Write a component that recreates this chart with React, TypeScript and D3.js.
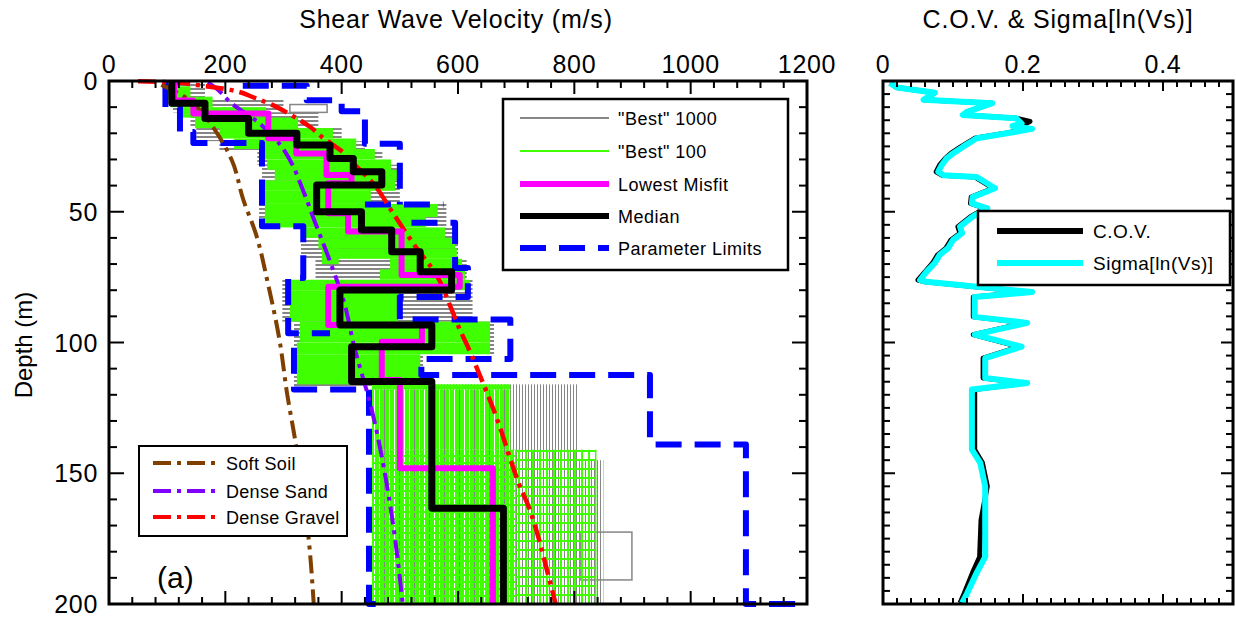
import React from "react";
import * as d3 from "d3";

// ---------- data ----------
// axis ticks
const velTickLabels = [0, 200, 400, 600, 800, 1000, 1200];
const depthTickLabels = [0, 50, 100, 150, 200];
const covTickLabels = [0, 0.2, 0.4];

// profiles: [top depth (m), Vs (m/s)]
const medianProfile: [number, number][] = [
  [0, 108], [8.5, 165], [14.3, 240], [20, 323], [24.5, 380], [29.6, 420], [34.7, 469],
  [39.8, 357], [50, 434], [57, 486], [65.3, 535], [72.9, 589], [79.9, 397], [93.3, 555],
  [101.6, 417], [114.9, 555], [163.4, 678],
];
const lowestMisfitProfile: [number, number][] = [
  [0, 112], [7.5, 145], [12.4, 274], [21.9, 322], [27.7, 374], [35.9, 417], [39.1, 377],
  [50.6, 411], [57.6, 503], [74.2, 603], [78.7, 377], [93.3, 538], [99.7, 469],
  [114.3, 500], [148.1, 660],
];

// envelopes of the "Best" 100 (green) and "Best" 1000 (gray) profiles: [dTop, dBot, VsMin, VsMax]
const best100Upper: [number, number, number, number][] = [
  [2, 7, 100, 140], [6, 10, 105, 178], [10, 14, 122, 270], [14, 18, 148, 325],
  [18, 22, 190, 385], [22, 26, 215, 425], [26, 30, 265, 457], [30, 34, 272, 485],
  [34, 38, 285, 500], [38, 42, 268, 492], [42, 47, 265, 450], [47, 52, 268, 565],
  [52, 56, 265, 545], [56, 60, 337, 578], [60, 64, 360, 595], [64, 68, 372, 598],
  [64, 70, 366, 395], [68, 72, 483, 607], [72, 76, 466, 612], [76, 80, 308, 620],
  [80, 92, 311, 497], [92, 100, 328, 655], [100, 104.5, 323, 655], [104.5, 116, 323, 535],
  [116, 118, 452, 690],
];
const best100Deep: [number, number, number, number][] = [[118, 141, 452, 690]];
const best100DeepGrid: [number, number, number, number][] = [[141, 200, 452, 700]];
const best100DeepSparse: [number, number, number, number][] = [[141, 200, 700, 838]];
const best1000Upper: [number, number, number, number][] = [
  [1, 7, 95, 165], [7, 12, 110, 300], [12, 18, 140, 360], [18, 23, 150, 400],
  [23, 27, 190, 440], [27, 32, 255, 470], [32, 38, 263, 505], [38, 47, 258, 500],
  [47, 56, 258, 580], [56, 68, 330, 600], [68, 76, 355, 615], [76, 92, 298, 625],
  [92, 104.5, 318, 662], [104.5, 117, 318, 540],
];
const best1000Deep: [number, number, number, number][] = [[116, 145, 450, 805], [145, 200, 450, 850]];
const best1000Outliers: [number, number, number, number][] = [[9, 12, 311, 375], [172.5, 190.8, 810, 899]];

// parameter limits: polylines of [depth, Vs]
const limitsA: [number, number][] = [
  [0, 97], [10.2, 97], [10.2, 122], [19.5, 122], [19.5, 145], [23.7, 145], [23.7, 263],
  [55.5, 263], [55.5, 334], [75.3, 334], [75.3, 308], [96.5, 308], [96.5, 380],
];
const limitsB: [number, number][] = [[102, 318], [118, 318], [118, 447], [200, 447], [200, 480]];
const limitsC: [number, number][] = [
  [1.8, 230], [1.8, 340], [7.4, 340], [7.4, 400], [11.6, 400], [11.6, 440], [24, 440],
  [24, 500], [47.2, 500],
];
const limitsD: [number, number][] = [[47.2, 440], [47.2, 575]];
const limitsE: [number, number][] = [
  [54.2, 520], [54.2, 595], [71.5, 595], [71.5, 617], [82.6, 617], [82.6, 500], [91.2, 500],
  [91.2, 690], [106.3, 690], [106.3, 537], [112.4, 537], [112.4, 930], [139, 930],
  [139, 1095], [200, 1095], [200, 1190],
];

// generic reference curves: [depth, Vs]
const softSoil: [number, number][] = [
  [1.5, 90], [5.4, 125], [11.1, 156], [18.7, 182], [30.2, 211], [45.5, 231], [58.1, 252],
  [77.2, 273], [100.2, 294], [119.3, 306], [137.3, 320], [176.7, 344], [200, 352],
];
const denseSand: [number, number][] = [
  [0.5, 170], [2.7, 184], [8, 208], [16.8, 262], [23.7, 292], [30.2, 311], [40.9, 332],
  [53.9, 354], [69.6, 381], [84.5, 404], [101, 421], [126, 452], [146, 471], [169, 488], [200, 505],
];
const denseGravel: [number, number][] = [
  [0.1, 50], [0.5, 110], [1.5, 150], [3.4, 208], [6.5, 251], [9.6, 285], [13, 313],
  [17.6, 346], [21.4, 366], [27.2, 402], [32.1, 423], [38.6, 452], [50.1, 487], [55.8, 504],
  [62.7, 525], [74.2, 563], [86.8, 588], [94.5, 602], [101.7, 617], [115.5, 643],
  [130.4, 669], [145.3, 691], [155.3, 707], [161.4, 719], [172.8, 736], [188.9, 755], [200, 768],
];

// right panel: [depth, value]
const sigmaLnVs: [number, number][] = [
  [0.8, 0.01], [2.5, 0.02], [4.5, 0.074], [7.2, 0.058], [8.5, 0.156], [11.8, 0.12], [13, 0.114],
  [14.2, 0.19], [16.3, 0.198], [17.2, 0.185], [18.3, 0.213], [20, 0.177], [21.9, 0.134],
  [25.2, 0.114], [27.7, 0.1], [29.6, 0.091], [32.1, 0.084], [34.7, 0.079], [36, 0.086],
  [36.7, 0.134], [41, 0.16], [44.4, 0.128], [46.8, 0.127], [48.7, 0.149], [51.9, 0.128],
  [55.7, 0.11], [58.2, 0.113], [60.8, 0.1], [63.9, 0.093], [66.5, 0.081], [69.6, 0.074],
  [73, 0.062], [76.1, 0.053], [76.8, 0.062], [80.7, 0.213], [82.6, 0.131], [90.2, 0.131],
  [92.5, 0.206], [97, 0.131], [101.6, 0.198], [106, 0.146], [113.6, 0.146], [115.5, 0.206],
  [118, 0.127], [141, 0.127], [146, 0.139], [155, 0.146], [182, 0.146], [188, 0.134],
  [196, 0.12], [199.6, 0.113],
];
const cov: [number, number][] = [
  [0.8, 0.01], [2.5, 0.02], [4.5, 0.074], [7.2, 0.058], [8.5, 0.156], [11.8, 0.12], [13, 0.115],
  [14.2, 0.19], [15.5, 0.21], [17, 0.198], [18.3, 0.207], [20, 0.175], [21.9, 0.131],
  [25.2, 0.111], [27.7, 0.097], [29.6, 0.089], [32.1, 0.081], [34.7, 0.076], [36, 0.084],
  [36.7, 0.131], [41, 0.157], [44.4, 0.126], [46.8, 0.125], [48.7, 0.146], [51.9, 0.125],
  [55.7, 0.107], [58.2, 0.11], [60.8, 0.097], [63.9, 0.09], [66.5, 0.078], [69.6, 0.071],
  [73, 0.06], [76.1, 0.05], [76.8, 0.06], [80.7, 0.207], [82.6, 0.129], [90.2, 0.129],
  [92.5, 0.203], [97, 0.129], [101.6, 0.195], [106, 0.143], [113.6, 0.143], [115.5, 0.203],
  [118, 0.131], [141, 0.131], [146, 0.142], [155, 0.149], [168, 0.14], [182, 0.138],
  [188, 0.128], [196, 0.116], [199.6, 0.11],
];

// ---------- styles ----------
const FONT = "'Liberation Sans', Arial, Helvetica, sans-serif";
const GREEN = "#40ff00";
const GRAY = "#868686";
const BLUE = "#0000ff";
const MAGENTA = "#ff00ff";
const CYAN = "#00ffff";
const BROWN = "#7f3f00";
const PURPLE = "#7f00ff";
const RED = "#ff0000";
const DASHDOT = "18 6 4 6";
const BLUEDASH = "26 13";

export default function App() {
  const x = d3.scaleLinear().domain([0, 1200]).range([109, 807]);
  const y = d3.scaleLinear().domain([0, 200]).range([81, 604]);
  const xc = d3.scaleLinear().domain([0, 0.5]).range([883, 1233]);

  const vLine = d3
    .line<[number, number]>()
    .x((p) => x(p[1]))
    .y((p) => y(p[0]));
  const vCurve = d3
    .line<[number, number]>()
    .x((p) => x(p[1]))
    .y((p) => y(p[0]))
    .curve(d3.curveMonotoneY);
  const cLine = d3
    .line<[number, number]>()
    .x((p) => xc(p[1]))
    .y((p) => y(p[0]));

  const steps = (layers: [number, number][]): [number, number][] => {
    const pts: [number, number][] = [];
    layers.forEach(([d, v], i) => {
      const dBot = i < layers.length - 1 ? layers[i + 1][0] : 200;
      pts.push([d, v]);
      pts.push([dBot, v]);
    });
    return pts;
  };

  const band = (b: [number, number, number, number]) => ({
    x: x(b[2]),
    y: y(b[0]),
    width: x(b[3]) - x(b[2]),
    height: y(b[1]) - y(b[0]),
  });

  const velMinor = d3.range(0, 1201, 40);
  const depthMinor = d3.range(0, 201, 10);
  const depthMinorR = d3.range(0, 201, 5);
  const covMinor = d3.range(0, 0.5001, 0.02);
  const isMajorCov = (v: number) => Math.abs(v / 0.2 - Math.round(v / 0.2)) < 1e-6;

  const [L, R, T, B] = [x(0), x(1200), y(0), y(200)];
  const [L2, R2] = [xc(0), xc(0.5)];

  const mainLegend = [
    { label: '"Best" 1000', stroke: GRAY, w: 2, dash: undefined as string | undefined },
    { label: '"Best" 100', stroke: GREEN, w: 2, dash: undefined },
    { label: "Lowest Misfit", stroke: MAGENTA, w: 6, dash: undefined },
    { label: "Median", stroke: "#000", w: 6, dash: undefined },
    { label: "Parameter Limits", stroke: BLUE, w: 6, dash: BLUEDASH },
  ];
  const mainLegendY = [118, 151, 184, 216, 248];
  const refLegend = [
    { label: "Soft Soil", stroke: BROWN },
    { label: "Dense Sand", stroke: PURPLE },
    { label: "Dense Gravel", stroke: RED },
  ];
  const refLegendY = [463, 491, 517];

  return (
    <svg
      width={1236}
      height={617}
      style={{ position: "absolute", left: 0, top: 0, background: "#fff" }}
      fontFamily={FONT}
    >
      <defs>
        <pattern id="grayH" patternUnits="userSpaceOnUse" width="10" height="4">
          <rect x="0" y="0" width="10" height="1.5" fill={GRAY} shapeRendering="crispEdges" />
        </pattern>
        <pattern id="grayV" patternUnits="userSpaceOnUse" width="3" height="10">
          <rect x="0" y="0" width="1" height="10" fill={GRAY} shapeRendering="crispEdges" />
        </pattern>
        <pattern id="greenV" patternUnits="userSpaceOnUse" width="5" height="10">
          <rect x="0" y="0" width="4" height="10" fill={GREEN} shapeRendering="crispEdges" />
        </pattern>
        <pattern id="greenGrid" patternUnits="userSpaceOnUse" width="5" height="7">
          <rect x="0" y="0" width="4" height="7" fill={GREEN} shapeRendering="crispEdges" />
          <rect x="0" y="0" width="5" height="2" fill={GREEN} shapeRendering="crispEdges" />
        </pattern>
        <pattern id="greenSparse" patternUnits="userSpaceOnUse" width="7" height="9">
          <rect x="0" y="0" width="2" height="9" fill={GREEN} shapeRendering="crispEdges" />
          <rect x="0" y="0" width="7" height="2" fill={GREEN} shapeRendering="crispEdges" />
        </pattern>
      </defs>
      <rect x={0} y={0} width={1236} height={617} fill="#fff" />

      {/* ---------- left panel ---------- */}
      {best1000Upper.map((b, i) => (
        <rect key={"gu" + i} {...band(b)} fill="url(#grayH)" />
      ))}
      {best1000Deep.map((b, i) => (
        <rect key={"gd" + i} {...band(b)} fill="url(#grayV)" />
      ))}
      {best1000Outliers.map((b, i) => (
        <rect key={"go" + i} {...band(b)} fill="none" stroke={GRAY} strokeWidth={1.5} />
      ))}
      {best100Upper.map((b, i) => (
        <rect key={"bu" + i} {...band(b)} fill={GREEN} />
      ))}
      {best100Deep.map((b, i) => (
        <rect key={"bd" + i} {...band(b)} fill="url(#greenV)" />
      ))}
      {best100DeepGrid.map((b, i) => (
        <rect key={"bg" + i} {...band(b)} fill="url(#greenGrid)" />
      ))}
      {best100DeepSparse.map((b, i) => (
        <rect key={"bs" + i} {...band(b)} fill="url(#greenSparse)" />
      ))}

      {[limitsA, limitsB, limitsC, limitsD, limitsE].map((pl, i) => (
        <path
          key={"lim" + i}
          d={vLine(pl) || ""}
          fill="none"
          stroke={BLUE}
          strokeWidth={6}
          strokeDasharray={BLUEDASH}
          strokeLinejoin="round"
        />
      ))}

      <path d={vCurve(softSoil) || ""} fill="none" stroke={BROWN} strokeWidth={4} strokeDasharray={DASHDOT} />
      <path d={vCurve(denseSand) || ""} fill="none" stroke={PURPLE} strokeWidth={4} strokeDasharray={DASHDOT} />
      <path d={vCurve(denseGravel) || ""} fill="none" stroke={RED} strokeWidth={4.5} strokeDasharray={DASHDOT} />

      <path d={vLine(steps(lowestMisfitProfile)) || ""} fill="none" stroke={MAGENTA} strokeWidth={6} strokeLinejoin="round" />
      <path d={vLine(steps(medianProfile)) || ""} fill="none" stroke="#000" strokeWidth={7} strokeLinejoin="round" />

      {/* frame + ticks */}
      <rect x={L} y={T} width={R - L} height={B - T} fill="none" stroke="#000" strokeWidth={3} />
      {velMinor.map((v) => {
        const len = v % 200 === 0 ? 13 : 7;
        return (
          <g key={"vt" + v} stroke="#000" strokeWidth={2}>
            <line x1={x(v)} x2={x(v)} y1={T} y2={T + len} />
            <line x1={x(v)} x2={x(v)} y1={B} y2={B - len} />
          </g>
        );
      })}
      {depthMinor.map((d) => {
        const len = d % 50 === 0 ? 15 : 8;
        return (
          <g key={"dt" + d} stroke="#000" strokeWidth={2}>
            <line x1={L} x2={L + len} y1={y(d)} y2={y(d)} />
            <line x1={R} x2={R - len} y1={y(d)} y2={y(d)} />
          </g>
        );
      })}
      {velTickLabels.map((v) => (
        <text key={"vl" + v} x={x(v)} y={73} fontSize={25} letterSpacing={0.7} textAnchor="middle">
          {v}
        </text>
      ))}
      {depthTickLabels.map((d) => (
        <text key={"dl" + d} x={98} y={y(d)} dy="0.36em" fontSize={25} letterSpacing={0.7} textAnchor="end">
          {d}
        </text>
      ))}
      <text x={456} y={28} fontSize={25} letterSpacing={0.8} textAnchor="middle">
        Shear Wave Velocity (m/s)
      </text>
      <text transform={`translate(32,345) rotate(-90)`} fontSize={24} textAnchor="middle">
        Depth (m)
      </text>

      {/* main legend */}
      <rect x={503} y={99} width={285} height={171} fill="#fff" stroke="#000" strokeWidth={2.5} />
      {mainLegend.map((e, i) => (
        <g key={"ml" + i}>
          <line
            x1={520}
            x2={609}
            y1={mainLegendY[i]}
            y2={mainLegendY[i]}
            stroke={e.stroke}
            strokeWidth={e.w}
            strokeDasharray={e.dash}
          />
          <text x={618} y={mainLegendY[i] + 6.5} fontSize={18} letterSpacing={0.5}>
            {e.label}
          </text>
        </g>
      ))}

      {/* reference-curve legend */}
      <rect x={139} y={446} width={208} height={90} fill="#fff" stroke="#000" strokeWidth={2} />
      {refLegend.map((e, i) => (
        <g key={"rl" + i}>
          <line
            x1={153}
            x2={219}
            y1={refLegendY[i]}
            y2={refLegendY[i]}
            stroke={e.stroke}
            strokeWidth={4}
            strokeDasharray={DASHDOT}
          />
          <text x={226} y={refLegendY[i] + 7} fontSize={18} letterSpacing={0.3}>
            {e.label}
          </text>
        </g>
      ))}
      <text x={157} y={588} fontSize={30}>
        (a)
      </text>

      {/* ---------- right panel ---------- */}
      <path d={cLine(cov) || ""} fill="none" stroke="#000" strokeWidth={5} strokeLinejoin="round" />
      <path d={cLine(sigmaLnVs) || ""} fill="none" stroke={CYAN} strokeWidth={6} strokeLinejoin="round" />
      <rect x={L2} y={T} width={R2 - L2} height={B - T} fill="none" stroke="#000" strokeWidth={3} />
      {covMinor.map((v, i) => {
        const len = isMajorCov(v) ? 10 : 6;
        return (
          <g key={"ct" + i} stroke="#000" strokeWidth={2}>
            <line x1={xc(v)} x2={xc(v)} y1={T} y2={T + len} />
            <line x1={xc(v)} x2={xc(v)} y1={B} y2={B - len} />
          </g>
        );
      })}
      {depthMinorR.map((d) => {
        const len = d % 50 === 0 ? 12 : 7;
        return (
          <g key={"rt" + d} stroke="#000" strokeWidth={2}>
            <line x1={L2} x2={L2 + len} y1={y(d)} y2={y(d)} />
            <line x1={R2} x2={R2 - len} y1={y(d)} y2={y(d)} />
          </g>
        );
      })}
      {covTickLabels.map((v) => (
        <text key={"cl" + v} x={xc(v)} y={73} fontSize={25} letterSpacing={0.7} textAnchor="middle">
          {v === 0 ? "0" : v.toFixed(1)}
        </text>
      ))}
      <text x={1058} y={28} fontSize={25} letterSpacing={0.8} textAnchor="middle">
        C.O.V. &amp; Sigma[ln(Vs)]
      </text>

      <rect x={978} y={211} width={252} height={74} fill="#fff" stroke="#000" strokeWidth={2.5} />
      <line x1={997} x2={1083} y1={231} y2={231} stroke="#000" strokeWidth={6} />
      <text x={1093} y={238} fontSize={19} letterSpacing={0.5}>
        C.O.V.
      </text>
      <line x1={997} x2={1083} y1={263} y2={263} stroke={CYAN} strokeWidth={6} />
      <text x={1093} y={270} fontSize={19} letterSpacing={0.5}>
        Sigma[ln(Vs)]
      </text>
    </svg>
  );
}
